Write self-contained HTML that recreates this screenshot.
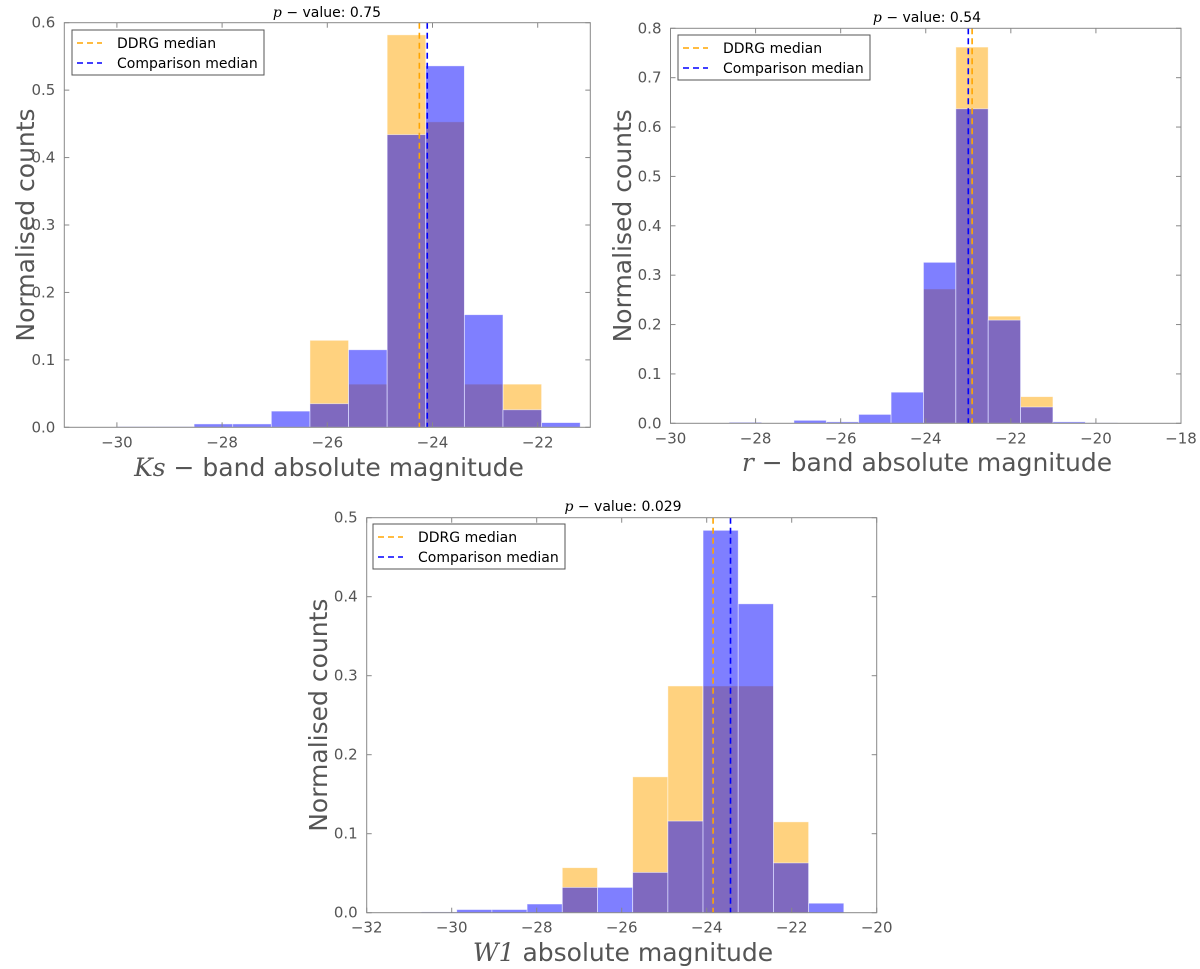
<!DOCTYPE html>
<html><head><meta charset="utf-8"><style>
html,body{margin:0;padding:0;background:#fff;}
svg{display:block;font-family:"DejaVu Sans","Liberation Sans",sans-serif;}
</style></head><body>
<svg id="fig" width="1200" height="969" viewBox="0 0 1200 969" xmlns="http://www.w3.org/2000/svg"></svg>
<script>
// Panel 1: Ks band
const ksBinStart = -30.0;
const ksBinWidth = 0.734;
const ksOrange = [0, 0, 0, 0, 0, 0.129, 0.064, 0.582, 0.453, 0.064, 0.064, 0];
const ksBlue = [0.001, 0.001, 0.005, 0.005, 0.024, 0.035, 0.115, 0.434, 0.536, 0.167, 0.026, 0.007];
const ksMedians = [-24.25, -24.10];
const ksXTicks = [-30, -28, -26, -24, -22];
const ksYTicks = [0.0, 0.1, 0.2, 0.3, 0.4, 0.5, 0.6];
// Panel 2: r band
const rBinStart = -28.62;
const rBinWidth = 0.761;
const rOrange = [0, 0, 0, 0, 0, 0, 0.272, 0.762, 0.217, 0.054, 0, 0];
const rBlue = [0.002, 0, 0.006, 0.003, 0.018, 0.063, 0.326, 0.637, 0.209, 0.033, 0.003, 0.001];
const rMedians = [-22.91, -23.0];
const rXTicks = [-30, -28, -26, -24, -22, -20, -18];
const rYTicks = [0.0, 0.1, 0.2, 0.3, 0.4, 0.5, 0.6, 0.7, 0.8];
// Panel 3: W1
const wBinStart = -30.71;
const wBinWidth = 0.828;
const wOrange = [0, 0, 0, 0, 0.057, 0, 0.172, 0.287, 0.287, 0.287, 0.115, 0];
const wBlue = [0.001, 0.004, 0.004, 0.011, 0.032, 0.032, 0.051, 0.116, 0.484, 0.391, 0.063, 0.012];
const wMedians = [-23.85, -23.44];
const wXTicks = [-32, -30, -28, -26, -24, -22, -20];
const wYTicks = [0.0, 0.1, 0.2, 0.3, 0.4, 0.5];

const NS = "http://www.w3.org/2000/svg";
const svg = document.getElementById('fig');
function mk(tag, attrs, parent, text){
  const e = document.createElementNS(NS, tag);
  for (const k in attrs) e.setAttribute(k, attrs[k]);
  if (text !== undefined) e.textContent = text;
  (parent || svg).appendChild(e);
  return e;
}

function panel(p){
  const g = mk('g', {});
  
  
  const sx = v => p.L + (v - p.xmin) / (p.xmax - p.xmin) * (p.R - p.L);
  const sy = v => p.B - (v - p.ymin) / (p.ymax - p.ymin) * (p.B - p.T);
  const drawBars = (vals, color, nm) => {
    vals.forEach((v, i) => {
      if (v <= 0) return;
      const x0 = sx(p.binStart + i * p.binWidth), x1 = sx(p.binStart + (i + 1) * p.binWidth);
      const r = mk('rect', {x: x0, y: sy(v), width: x1 - x0, height: sy(0) - sy(v), fill: color, 'fill-opacity': 0.5, stroke: '#ffffff', 'stroke-opacity': 0.6, 'stroke-width': 0.8}, g);
      
      
    });
  };
  drawBars(p.orange, '#ffa500', 'ddrg');
  drawBars(p.blue, '#0000ff', 'comparison');
  const mcol = ['#ffa500', '#0000ff'];
  p.medians.forEach((m, i) => {
    const l = mk('line', {x1: sx(m), x2: sx(m), y1: p.T, y2: p.B, stroke: mcol[i], 'stroke-width': 1.6, 'stroke-dasharray': '6,4'}, g);
    
    
  });
  const fr = mk('rect', {x: p.L, y: p.T, width: p.R - p.L, height: p.B - p.T, fill: 'none', stroke: '#888', 'stroke-width': 1}, g);
  
  
  p.xticks.forEach(t => {
    const x = sx(t);
    mk('line', {x1: x, x2: x, y1: p.B, y2: p.B - 5, stroke: '#888'}, g);
    mk('line', {x1: x, x2: x, y1: p.T, y2: p.T + 5, stroke: '#888'}, g);
    const tx = mk('text', {x: x, y: p.B + 20, 'text-anchor': 'middle', 'font-size': 15, fill: '#555'}, g, (t < 0 ? '\u2212' + Math.abs(t) : String(t)));
    
    
  });
  p.yticks.forEach(t => {
    const y = sy(t);
    mk('line', {x1: p.L, x2: p.L + 5, y1: y, y2: y, stroke: '#888'}, g);
    mk('line', {x1: p.R, x2: p.R - 5, y1: y, y2: y, stroke: '#888'}, g);
    const ty = mk('text', {x: p.L - 9, y: y + 5, 'text-anchor': 'end', 'font-size': 15, fill: '#555'}, g, t.toFixed(1));
    
    
  });
  const tt = mk('text', {x: p.titleX, y: p.titleY, 'text-anchor': 'middle', 'font-size': 14, fill: '#000'}, g);
  
  
  mk('tspan', {'font-family': '"DejaVu Serif","Liberation Serif",serif', 'font-style': 'italic'}, tt, 'p');
  mk('tspan', {}, tt, ' \u2212 value: ' + p.pval);
  const yl = mk('text', {x: 0, y: 0, transform: 'translate(' + p.ylX + ',' + ((p.T + p.B) / 2) + ') rotate(-90)', 'text-anchor': 'middle', 'font-size': 25, fill: '#555'}, g, 'Normalised counts');
  
  
  const xl = mk('text', {x: p.xlX, y: p.xlY, 'text-anchor': 'middle', 'font-size': 25, fill: '#555'}, g);
  
  
  mk('tspan', {'font-family': '"DejaVu Serif","Liberation Serif",serif', 'font-style': 'italic'}, xl, p.xlMath);
  mk('tspan', {}, xl, p.xlText);
  const lg = mk('g', {}, g);
  
  
  mk('rect', {x: p.legX, y: p.legY, width: 192, height: 45, fill: '#fff', stroke: '#555', 'stroke-width': 1}, lg);
  const labels = ['DDRG median', 'Comparison median'];
  labels.forEach((lab, i) => {
    const yy = p.legY + 13 + i * 20;
    mk('line', {x1: p.legX + 5, x2: p.legX + 30, y1: yy, y2: yy, stroke: mcol[i], 'stroke-width': 1.6, 'stroke-dasharray': '6,4'}, lg);
    const le = mk('text', {x: p.legX + 45, y: yy + 5, 'font-size': 14, fill: '#000'}, lg, lab);
    
    
  });
}

panel({name: 'ks-band-panel', L: 64.3, R: 590.3, T: 22.7, B: 427.3, xmin: -31, xmax: -21, ymin: 0, ymax: 0.6,
  binStart: ksBinStart, binWidth: ksBinWidth, orange: ksOrange, blue: ksBlue, medians: ksMedians,
  xticks: ksXTicks, yticks: ksYTicks, pval: '0.75', titleX: 327, titleY: 17,
  ylX: 34, xlX: 329, xlY: 476, xlMath: 'Ks', xlText: ' \u2212 band absolute magnitude', legX: 72, legY: 30});
panel({name: 'r-band-panel', L: 670.5, R: 1181, T: 28.3, B: 423.3, xmin: -30, xmax: -18, ymin: 0, ymax: 0.8,
  binStart: rBinStart, binWidth: rBinWidth, orange: rOrange, blue: rBlue, medians: rMedians,
  xticks: rXTicks, yticks: rYTicks, pval: '0.54', titleX: 927, titleY: 22,
  ylX: 631, xlX: 927, xlY: 471, xlMath: 'r', xlText: ' \u2212 band absolute magnitude', legX: 678, legY: 35});
panel({name: 'w1-panel', L: 366.7, R: 876.7, T: 517.7, B: 912.7, xmin: -32, xmax: -20, ymin: 0, ymax: 0.5,
  binStart: wBinStart, binWidth: wBinWidth, orange: wOrange, blue: wBlue, medians: wMedians,
  xticks: wXTicks, yticks: wYTicks, pval: '0.029', titleX: 623, titleY: 511,
  ylX: 327, xlX: 623, xlY: 961, xlMath: 'W1', xlText: ' absolute magnitude', legX: 373, legY: 524});
</script>
</body></html>
